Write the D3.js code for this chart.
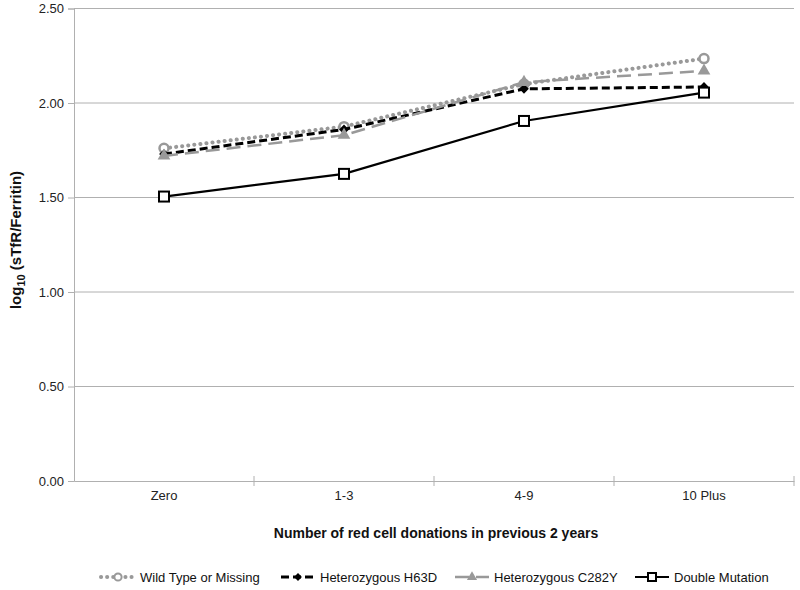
<!DOCTYPE html>
<html><head><meta charset="utf-8">
<script src="https://cdn.jsdelivr.net/npm/d3@7"></script>
<style>body{margin:0;background:#fff;} svg{display:block;font-family:"Liberation Sans",Arial,sans-serif;}</style>
</head><body><svg id="c" width="800" height="590"></svg>
<script>
const categories = ["Zero", "1-3", "4-9", "10 Plus"];
const seriesNames = ["Wild Type or Missing", "Heterozygous H63D", "Heterozygous C282Y", "Double Mutation"];
const wildType = [1.76, 1.875, 2.10, 2.235];
const h63d = [1.73, 1.86, 2.075, 2.085];
const c282y = [1.72, 1.83, 2.11, 2.17];
const doubleMut = [1.505, 1.625, 1.905, 2.055];
const yTicks = [0, 0.5, 1.0, 1.5, 2.0, 2.5];
const xTitle = "Number of red cell donations in previous 2 years";

const svg = d3.select("#c");
const L = 74, R = 794, T = 8.5, B = 481;
const x = d3.scaleBand().domain(categories).range([L, R]);
const y = d3.scaleLinear().domain([0, 2.5]).range([B, T]);
const grid = "#b0b0b0";

// gridlines
svg.append("g").selectAll("line").data(yTicks.filter(d => d > 0)).join("line")
  .attr("x1", L).attr("x2", R).attr("y1", d => y(d)).attr("y2", d => y(d))
  .attr("stroke", grid).attr("stroke-width", 1);

// y axis
const ya = svg.append("g").attr("transform", `translate(${L},0)`)
  .call(d3.axisLeft(y).tickValues(yTicks).tickFormat(d3.format(".2f")).tickSize(6).tickPadding(4));
ya.select(".domain").attr("stroke", grid);
ya.selectAll(".tick line").attr("stroke", grid);
ya.selectAll("text").attr("font-size", 13).attr("fill", "#222").attr("font-family", "Liberation Sans, Arial, sans-serif");

// x axis
const xa = svg.append("g").attr("transform", `translate(0,${B})`)
  .call(d3.axisBottom(x).tickSize(0).tickPadding(10));
xa.select(".domain").attr("stroke", grid);
xa.selectAll("text").attr("font-size", 13).attr("fill", "#222").attr("font-family", "Liberation Sans, Arial, sans-serif");
// category separator ticks
svg.append("g").selectAll("line").data(categories.slice(1).concat(["__end"])).join("line")
  .attr("x1", d => d === "__end" ? R : x(d)).attr("x2", d => d === "__end" ? R : x(d))
  .attr("y1", B - 5).attr("y2", B + 5).attr("stroke", grid);

// titles
svg.append("text").attr("x", 436).attr("y", 538).attr("text-anchor", "middle")
  .attr("font-size", 14).attr("font-weight", "bold").attr("fill", "#111").text(xTitle);
const yt = svg.append("text").attr("transform", "translate(21,240) rotate(-90)").attr("text-anchor", "middle")
  .attr("font-size", 15).attr("font-weight", "bold").attr("fill", "#111");
yt.append("tspan").text("log");
yt.append("tspan").attr("font-size", 11).attr("dy", 4).text("10");
yt.append("tspan").attr("dy", -4).text(" (sTfR/Ferritin)");

const gray = "#999999";
const series = [
  {name: seriesNames[0], vals: wildType, color: gray, dash: "0.1,6", cap: "round", w: 4, marker: "circle"},
  {name: seriesNames[1], vals: h63d, color: "#000", dash: "8,4", cap: "butt", w: 3, marker: "diamond"},
  {name: seriesNames[2], vals: c282y, color: gray, dash: "14,7", cap: "butt", w: 2.5, marker: "triangle"},
  {name: seriesNames[3], vals: doubleMut, color: "#000", dash: null, cap: "butt", w: 2.2, marker: "square"}
];

const line = d3.line().x((d, i) => x(categories[i]) + x.bandwidth() / 2).y(d => y(d));

function drawMarker(g, type, cx, cy, color, k) {
  if (type === "circle") {
    g.append("circle").attr("cx", cx).attr("cy", cy).attr("r", 4.5 * k)
      .attr("fill", "#fff").attr("stroke", color).attr("stroke-width", 2.5 * k);
  } else if (type === "diamond") {
    g.append("path").attr("d", d3.symbol(d3.symbolDiamond2, 60 * k * k)()).attr("transform", `translate(${cx},${cy})`)
      .attr("fill", color);
  } else if (type === "triangle") {
    g.append("path").attr("d", d3.symbol(d3.symbolTriangle, 70 * k * k)()).attr("transform", `translate(${cx},${cy})`)
      .attr("fill", color);
  } else if (type === "square") {
    g.append("rect").attr("x", cx - 5 * k).attr("y", cy - 5 * k).attr("width", 10 * k).attr("height", 10 * k)
      .attr("fill", "#fff").attr("stroke", color).attr("stroke-width", 2);
  }
}

series.forEach(s => {
  const g = svg.append("g");
  g.append("path").attr("d", line(s.vals)).attr("fill", "none").attr("stroke", s.color)
    .attr("stroke-width", s.w).attr("stroke-dasharray", s.dash).attr("stroke-linecap", s.cap);
  s.vals.forEach((v, i) => drawMarker(g, s.marker, x(categories[i]) + x.bandwidth() / 2, y(v), s.color, 1));
});

// legend
const legX = [101, 281, 455, 635];
const ly = 577;
series.forEach((s, i) => {
  const g = svg.append("g");
  const x0 = legX[i];
  g.append("line").attr("x1", x0).attr("x2", x0 + 34).attr("y1", ly).attr("y2", ly)
    .attr("stroke", s.color).attr("stroke-width", s.w).attr("stroke-dasharray", s.dash).attr("stroke-linecap", s.cap);
  drawMarker(g, s.marker, x0 + 17, ly, s.color, 0.8);
  g.append("text").attr("x", x0 + 39).attr("y", ly + 4.5).attr("font-size", 13).attr("fill", "#111").text(s.name);
});
</script></body></html>
